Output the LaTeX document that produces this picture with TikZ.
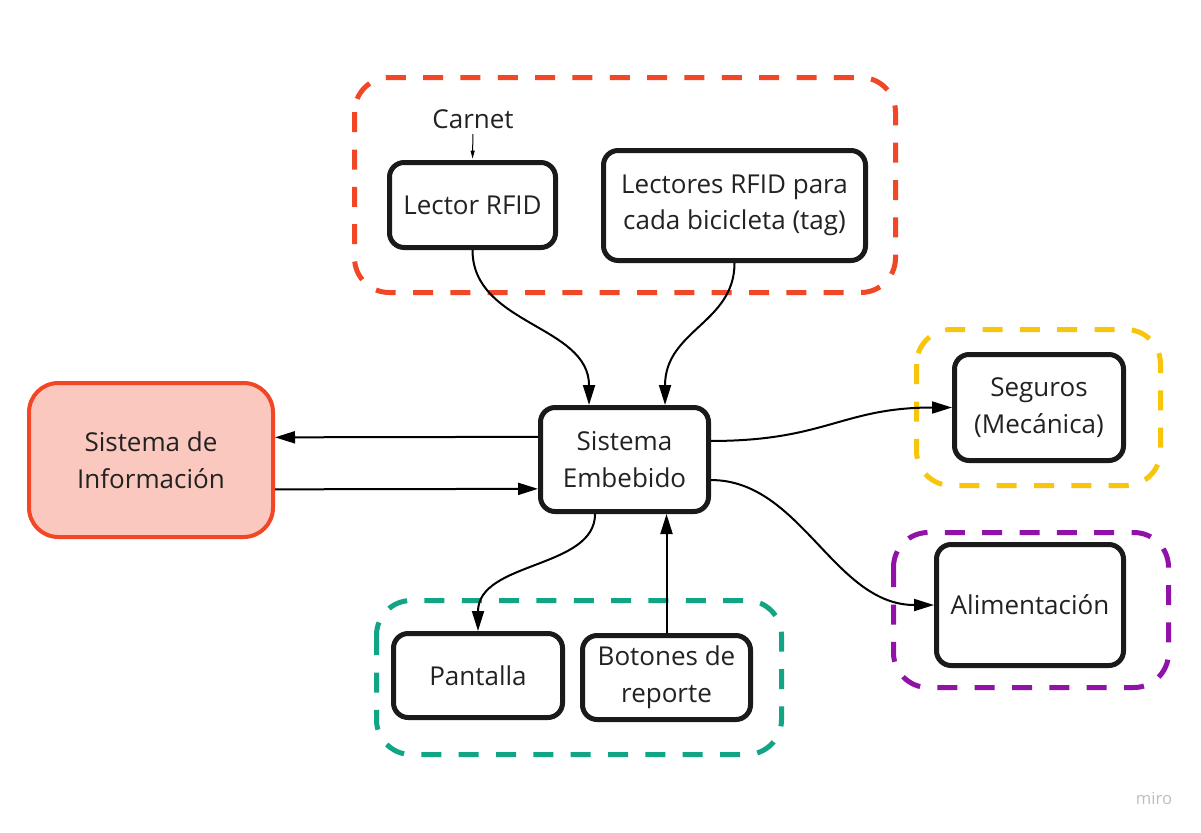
\documentclass[tikz,border=0pt]{standalone}
\usepackage{fontspec}
\setmainfont{Open Sans}
\usetikzlibrary{arrows.meta,calc}
\definecolor{txt}{HTML}{222222}
\definecolor{boxline}{HTML}{1A1A1A}
\definecolor{mred}{HTML}{F24726}
\definecolor{mredfill}{HTML}{FAC8BE}
\definecolor{myellow}{HTML}{F8C50A}
\definecolor{mgreen}{HTML}{12A585}
\definecolor{mpurple}{HTML}{9012A8}
\definecolor{miro}{HTML}{BDBDC6}
\tikzset{
  blk/.style={draw=boxline, line width=3.75pt, rounded corners=11pt, fill=white,
    align=center, text=txt, font=\fontsize{19.5}{27.5}\selectfont, inner sep=0pt},
  grp/.style={line width=3.75pt, rounded corners=26pt, dash pattern=on 15pt off 13pt},
  conn/.style={line width=1.5pt, -{Triangle[length=15pt,width=9pt]}},
}
\begin{document}
\begin{tikzpicture}[x=0.75pt,y=-0.75pt]
\useasboundingbox (0,0) rectangle (1201,832);
\fill[white] (0,0) rectangle (1201,832);
% groups
\draw[grp, mred] (354.5,77.5) rectangle (895.5,292.5);
\draw[grp, myellow] (916.5,329.5) rectangle (1160.5,485.5);
\draw[grp, mpurple] (893.5,532.5) rectangle (1168.5,687.5);
\draw[grp, mgreen] (376.5,600.5) rectangle (781.5,754.5);
% nodes
\node[blk, minimum width=124.5pt, minimum height=63.75pt] (lector) at (472.5,205) {Lector RFID};
\node[blk, minimum width=196.5pt, minimum height=82.5pt] (lectores) at (734.5,205.5) {Lectores RFID para\\cada bicicleta (tag)};
\node[blk, draw=mred, fill=mredfill, line width=3pt, rounded corners=22pt, minimum width=183pt, minimum height=115.5pt] (info) at (151,460) {Sistema de\\Información};
\node[blk, minimum width=126pt, minimum height=78pt] (emb) at (624.5,459.5) {Sistema\\Embebido};
\node[blk, minimum width=126.75pt, minimum height=79.5pt] (seg) at (1039,407.5) {Seguros\\(Mecánica)};
\node[blk, minimum width=140.25pt, minimum height=90.75pt] (alim) at (1030,605) {Alimentación};
\node[blk, minimum width=126.75pt, minimum height=63pt] (pant) at (478,675.5) {Pantalla};
\node[blk, minimum width=126pt, minimum height=63pt] (bot) at (666.5,677.5) {Botones de\\reporte};
\node[text=txt, font=\fontsize{19.5}{24}\selectfont, inner sep=0pt] (carnet) at (473,119) {Carnet};
\node[text=miro, font=\fontsize{12.5}{14}\selectfont, inner sep=0pt] (miro) at (1154,798) {miro};
% connectors
\draw[line width=0.75pt, -{Triangle[length=6pt,width=3pt]}, shorten <=4pt, shorten >=1pt] (carnet.south) -- (lector.north);
\draw[conn] (lector.south) .. controls +(0,75) and +(0,-80) .. ([xshift=-26.6pt]emb.north);
\draw[conn] (lectores.south) .. controls +(0,60) and +(0,-75) .. ([xshift=30.4pt]emb.north);
\draw[conn] ([yshift=17pt]emb.west) -- ([yshift=17pt]info.east);
\draw[conn] ([yshift=-22pt]info.east) -- ([yshift=-22pt]emb.west);
\draw[conn] ([yshift=13.9pt]emb.east) .. controls +(115,0) and +(-110,0) .. (seg.west);
\draw[conn] ([yshift=-15.4pt]emb.east) .. controls +(90,0) and +(-100,0) .. (alim.west);
\draw[conn] ([xshift=-22.1pt]emb.south) .. controls +(0,55) and +(0,-70) .. (pant.north);
\draw[conn] (bot.north) -- (bot.north |- emb.south);
\end{tikzpicture}
\end{document}
